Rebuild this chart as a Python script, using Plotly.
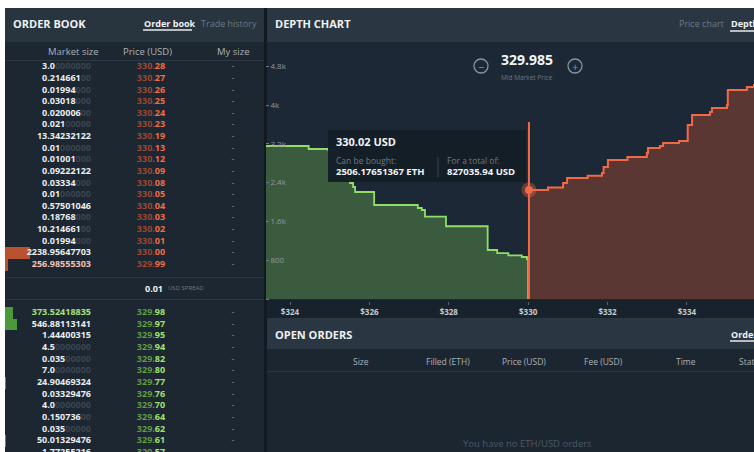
import plotly.graph_objects as go

# ---------------- data ----------------
ask_sizes = ["3.0", "0.214661", "0.01994", "0.03018", "0.020006", "0.021", "13.34232122",
             "0.01", "0.01001", "0.09222122", "0.03334", "0.01", "0.57501046", "0.18768",
             "10.214661", "0.01994", "2238.95647703", "256.98555303"]
ask_prices = ["330.28", "330.27", "330.26", "330.25", "330.24", "330.23", "330.19", "330.13",
              "330.12", "330.09", "330.08", "330.05", "330.04", "330.03", "330.02", "330.01",
              "330.00", "329.99"]
bid_sizes = ["373.52418835", "546.88113141", "1.44400315", "4.5", "0.035", "7.0",
             "24.90469324", "0.03329476", "4.0", "0.150736", "0.035", "50.01329476", "1.77255216"]
bid_prices = ["329.98", "329.97", "329.95", "329.94", "329.82", "329.80", "329.77", "329.76",
              "329.70", "329.64", "329.62", "329.61", "329.57"]
spread_value = "0.01"
mid_market_price = "329.985"

bid_depth_price = [323.39, 324.47, 324.96, 325.20, 325.40, 325.51, 325.59, 325.64, 326.12,
                   327.22, 327.32, 327.40, 327.93, 328.98, 329.22, 329.50, 329.84, 329.97, 330.00]
bid_depth_total = [3155, 3093, 3072, 2800, 2480, 2392, 2309, 2206, 1938,
                   1876, 1835, 1700, 1500, 1010, 948, 900, 866, 825, 0]
ask_depth_price = [330.00, 330.50, 330.88, 330.98, 331.50, 331.86, 331.90, 332.01, 332.50,
                   332.99, 333.02, 333.32, 333.40, 333.80, 334.02, 334.13, 334.58, 334.63,
                   335.01, 335.03, 335.51, 335.69]
ask_depth_total = [2250, 2300, 2392, 2495, 2540, 2598, 2722, 2866, 2930,
                   3010, 3113, 3155, 3216, 3260, 3588, 3794, 3856, 3938,
                   4000, 4309, 4371, 4433]

cursor_price = 330.02
cursor_line_top = 3650
cursor_bought = "2506.17651367 ETH"
cursor_total = "827035.94 USD"

y_tick_vals = [0, 800, 1600, 2400, 3200, 4000, 4800]
y_tick_text = ["0", "800", "1.6k", "2.4k", "3.2k", "4k", "4.8k"]
x_tick_vals = [324, 326, 328, 330, 332, 334]
x_tick_text = ["$324", "$326", "$328", "$330", "$332", "$334"]

book_columns = ["Market size", "Price (USD)", "My size"]
open_order_columns = ["Size", "Filled (ETH)", "Price (USD)", "Fee (USD)", "Time", "Status"]

# ---------------- styling / layout helpers ----------------
W, H = 754, 452
FONT = "Open Sans"
def px(x): return x / W
def py(y): return 1 - y / H

BODY = "#1d2731"
HEAD = "#2a3742"
GREEN_LINE = "#8ede68"
GREEN_FILL = "#3b5b3e"
RED_LINE = "#f26a45"
RED_FILL = "#5b3733"

# row geometry of the order book (rows in units of "row index")
ROW0_PX, ROW_PX = 67, 11.63
BID_OFFSET = 21.15
ask_pos = list(range(len(ask_sizes)))
bid_pos = [BID_OFFSET + j for j in range(len(bid_sizes))]

def size_text(s):
    dec = s.split(".")[1]
    pad = "0" * max(0, 8 - len(dec))
    return s + (f"<span style='color:#3a4550'>{pad}</span>" if pad else "")

def price_text(p, dim, bright):
    a, b = p.split(".")
    return f"<span style='color:{dim}'>{a}.</span><span style='color:{bright}'>{b}</span>"

fig = go.Figure()

# ---- order book depth bars ----
fig.add_trace(go.Bar(x=[float(s) for s in ask_sizes], y=ask_pos, orientation="h", width=1.0,
                     marker=dict(color="#b9532f", line=dict(width=0)),
                     xaxis="x2", yaxis="y2", hoverinfo="skip", showlegend=False))
fig.add_trace(go.Bar(x=[float(s) for s in bid_sizes], y=bid_pos, orientation="h", width=1.0,
                     marker=dict(color="#4a9a3c", line=dict(width=0)),
                     xaxis="x3", yaxis="y2", hoverinfo="skip", showlegend=False))

# ---- order book texts ----
ask_colors = ["#e9edf0"] * (len(ask_sizes) - 1) + ["#f2c0b6"]
bid_colors = ["#a8e07c"] + ["#e9edf0"] * (len(bid_sizes) - 1)
fig.add_trace(go.Scatter(x=[91] * len(ask_sizes), y=ask_pos, mode="text",
                         text=[size_text(s) for s in ask_sizes], textposition="middle left",
                         textfont=dict(family=FONT, size=9, color=ask_colors, weight="bold"),
                         xaxis="x4", yaxis="y2", hoverinfo="skip", showlegend=False))
fig.add_trace(go.Scatter(x=[91] * len(bid_sizes), y=bid_pos, mode="text",
                         text=[size_text(s) for s in bid_sizes], textposition="middle left",
                         textfont=dict(family=FONT, size=9, color=bid_colors, weight="bold"),
                         xaxis="x4", yaxis="y2", hoverinfo="skip", showlegend=False))
fig.add_trace(go.Scatter(x=[151] * len(ask_prices), y=ask_pos, mode="text",
                         text=[price_text(p, "#9a4834", "#f06d45") for p in ask_prices],
                         textposition="middle center",
                         textfont=dict(family=FONT, size=9, weight="bold"),
                         xaxis="x4", yaxis="y2", hoverinfo="skip", showlegend=False))
fig.add_trace(go.Scatter(x=[151] * len(bid_prices), y=bid_pos, mode="text",
                         text=[price_text(p, "#5f9a45", "#9fe46e") for p in bid_prices],
                         textposition="middle center",
                         textfont=dict(family=FONT, size=9, weight="bold"),
                         xaxis="x4", yaxis="y2", hoverinfo="skip", showlegend=False))
fig.add_trace(go.Scatter(x=[233] * (len(ask_pos) + len(bid_pos)), y=ask_pos + bid_pos, mode="text",
                         text=["-"] * (len(ask_pos) + len(bid_pos)), textposition="middle center",
                         textfont=dict(family=FONT, size=9, color="#7d8891"),
                         xaxis="x4", yaxis="y2", hoverinfo="skip", showlegend=False))

# ---- depth chart ----
fig.add_trace(go.Scatter(x=bid_depth_price, y=bid_depth_total, mode="lines", line_shape="hv",
                         line=dict(color=GREEN_LINE, width=1.8), fill="tozeroy",
                         fillcolor=GREEN_FILL, hoverinfo="skip", showlegend=False))
fig.add_trace(go.Scatter(x=ask_depth_price, y=ask_depth_total, mode="lines", line_shape="hv",
                         line=dict(color=RED_LINE, width=2), fill="tozeroy",
                         fillcolor=RED_FILL, hoverinfo="skip", showlegend=False))
# cursor
cursor_depth = [t for p, t in zip(ask_depth_price, ask_depth_total) if p <= cursor_price][-1]
fig.add_trace(go.Scatter(x=[cursor_price, cursor_price], y=[0, cursor_line_top], mode="lines",
                         line=dict(color=RED_LINE, width=2), hoverinfo="skip", showlegend=False))
fig.add_trace(go.Scatter(x=[cursor_price], y=[cursor_depth], mode="markers",
                         marker=dict(size=15, color="rgba(242,106,69,0.35)"),
                         hoverinfo="skip", showlegend=False))
fig.add_trace(go.Scatter(x=[cursor_price], y=[cursor_depth], mode="markers",
                         marker=dict(size=8, color=RED_LINE),
                         hoverinfo="skip", showlegend=False))

# ---------------- shapes ----------------
shapes = []
def rect(x0, y0, x1, y1, color, layer="below"):
    shapes.append(dict(type="rect", xref="paper", yref="paper", x0=px(x0), x1=px(x1),
                       y0=py(y1), y1=py(y0), fillcolor=color, line=dict(width=0), layer=layer))
def hline(x0, x1, y, color, w=1, layer="below"):
    shapes.append(dict(type="line", xref="paper", yref="paper", x0=px(x0), x1=px(x1),
                       y0=py(y), y1=py(y), line=dict(color=color, width=w), layer=layer))
def vline(x, y0, y1, color, w=1, layer="below"):
    shapes.append(dict(type="line", xref="paper", yref="paper", x0=px(x), x1=px(x),
                       y0=py(y0), y1=py(y1), line=dict(color=color, width=w), layer=layer))

rect(5, 8, 754, 452, BODY)
rect(5, 8, 264, 42, "#28343e")
rect(267, 8, 754, 42, HEAD)
rect(267, 42, 754, 300, "#1c2835")
rect(267, 300, 754, 318, "#18222c")
rect(267, 318, 754, 349, HEAD)
rect(267, 349, 754, 452, "#1c2631")
rect(264, 8, 267, 452, "#121920")
hline(5, 264, 60.5, "#2c3843")
hline(5, 264, 277.5, "#2c3843")
hline(5, 264, 299.5, "#2c3843")
hline(267, 754, 371.5, "#2a3540")
hline(143, 192, 30, "#e6eaed", 1.5)
hline(730, 754, 31, "#e6eaed", 1.5)
hline(730, 754, 341, "#e6eaed", 1.5)
# tooltip
rect(328, 130, 526, 182, "rgba(21,30,39,0.97)", layer="above")
vline(438, 157, 177, "#3b4652", 1, layer="above")
# zoom buttons
for cx in (481, 575):
    shapes.append(dict(type="circle", xref="paper", yref="paper", x0=px(cx - 7), x1=px(cx + 7),
                       y0=py(73), y1=py(59), line=dict(color="#8b959d", width=1.3)))

# ---------------- annotations ----------------
ann = []
def text(x, y, s, size=9, color="#e9edf0", bold=False, xanchor="left"):
    ann.append(dict(xref="paper", yref="paper", x=px(x), y=py(y), text=s, showarrow=False,
                    xanchor=xanchor, yanchor="middle",
                    font=dict(family=FONT, size=size, color=color, weight="bold" if bold else "normal")))

text(11, 24, "ORDER BOOK", 11, "#eef1f3", True)
text(142, 24, "Order book", 9, "#eef1f3", True)
text(199, 24, "Trade history", 9, "#6d7983")
for label, cx in zip(book_columns, [73, 147, 233]):
    text(cx, 52, label, 9.5, "#a9b2b9", xanchor="center")
text(165, 288, spread_value, 9, "#eef1f3", True, xanchor="right")
text(166, 288, "USD SPREAD", 6, "#6d7983")

text(273, 24, "DEPTH CHART", 11, "#eef1f3", True)
text(677, 24, "Price chart", 9, "#6d7983")
text(729, 24, "Depth", 9, "#eef1f3", True)
text(527, 60, mid_market_price, 14, "#f2f4f6", True, xanchor="center")
text(527, 77, "Mid Market Price", 6.5, "#6d7983", xanchor="center")
text(481, 66, "−", 11, "#8b959d", xanchor="center")
text(575, 66, "+", 11, "#8b959d", xanchor="center")

text(334, 141, f"{cursor_price:.2f} USD", 11, "#f2f4f6", True)
text(334, 160, "Can be bought:", 8.5, "#6d7983")
text(334, 171, cursor_bought, 9.5, "#f2f4f6", True)
text(445, 160, "For a total of:", 8.5, "#6d7983")
text(445, 171, cursor_total, 9.5, "#f2f4f6", True)

text(273, 334, "OPEN ORDERS", 11, "#eef1f3", True)
text(729, 334, "Order", 9, "#eef1f3", True)
for label, cx in zip(open_order_columns[:-1], [361, 448, 524, 603, 686]):
    text(cx, 361, label, 8.5, "#a9b2b9", xanchor="center")
text(737, 361, open_order_columns[-1], 8.5, "#a9b2b9")
text(527, 443, "You have no ETH/USD orders", 9.5, "#4c5863", xanchor="center")

# ---------------- layout ----------------
ax_hidden = dict(visible=False, showgrid=False, zeroline=False, fixedrange=True)
fig.update_layout(
    width=W, height=H, margin=dict(l=0, r=0, t=0, b=0),
    paper_bgcolor="#ffffff", plot_bgcolor="rgba(0,0,0,0)",
    hovermode=False, showlegend=False, bargap=0,
    shapes=shapes, annotations=ann,
    xaxis=dict(domain=[px(266), 1], range=[323.395, 335.69], anchor="y",
               showgrid=False, zeroline=False, showline=False,
               tickvals=x_tick_vals, ticktext=x_tick_text, ticks="outside", ticklen=3,
               tickcolor="#56626c",
               tickfont=dict(family=FONT, size=8, color="#c3cad0", weight="bold")),
    yaxis=dict(domain=[py(301), py(45)], range=[-41, 5237], anchor="x",
               showgrid=False, zeroline=False, showline=False,
               tickvals=y_tick_vals, ticktext=y_tick_text, ticks="inside", ticklen=3,
               tickcolor="#6d7983", ticklabelposition="inside",
               tickfont=dict(family=FONT, size=8, color="#8e99a3")),
    xaxis2=dict(domain=[px(5), px(265)], range=[0, 23300], anchor="y2", **ax_hidden),
    xaxis3=dict(domain=[px(5), px(265)], range=[0, 11830], anchor="y2", **ax_hidden),
    xaxis4=dict(domain=[0, px(265)], range=[0, 265], anchor="y2", **ax_hidden),
    yaxis2=dict(domain=[0, 1], range=[(H - ROW0_PX) / ROW_PX, -ROW0_PX / ROW_PX],
                anchor="x4", **ax_hidden),
)

fig.write_html("out.html", config={"displayModeBar": False, "staticPlot": True},
               post_script="document.body.style.margin='0';document.body.style.overflow='hidden';")
